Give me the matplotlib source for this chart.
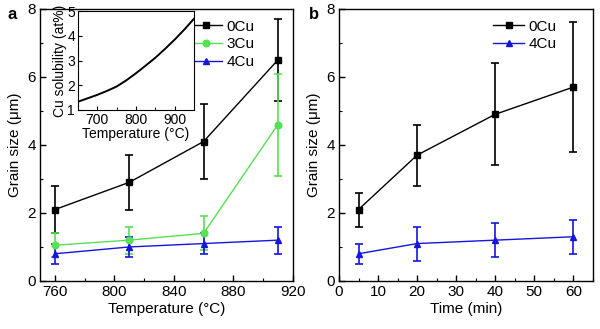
import matplotlib
matplotlib.use("Agg")
import matplotlib.pyplot as plt
from matplotlib.lines import Line2D
from matplotlib.ticker import MultipleLocator

plt.rcParams['font.family'] = ['Liberation Sans', 'DejaVu Sans']

# Panel a: grain size vs annealing temperature
temp = [760, 810, 860, 910]
cu0_a = [2.1, 2.9, 4.1, 6.5]
cu0_a_err = [0.7, 0.8, 1.1, 1.2]
cu3_a = [1.05, 1.2, 1.4, 4.6]
cu3_a_err = [0.35, 0.4, 0.5, 1.5]
cu4_a = [0.8, 1.0, 1.1, 1.2]
cu4_a_err = [0.3, 0.3, 0.3, 0.4]

# Inset: Cu solubility vs temperature
sol_temp = [650, 675, 700, 725, 750, 775, 800, 825, 850, 875, 900, 925, 950]
sol_val = [1.33, 1.47, 1.61, 1.77, 1.95, 2.2, 2.49, 2.8, 3.12, 3.48, 3.86,
           4.27, 4.71]

# Panel b: grain size vs annealing time
time_min = [5, 20, 40, 60]
cu0_b = [2.1, 3.7, 4.9, 5.7]
cu0_b_err = [0.5, 0.9, 1.5, 1.9]
cu4_b = [0.8, 1.1, 1.2, 1.3]
cu4_b_err = [0.3, 0.5, 0.5, 0.5]

BLACK = '#000000'
GREEN = '#55e055'
BLUE = '#1515e0'
MS = 4.8

fig = plt.figure(figsize=(6.0, 3.29), dpi=100)
ax_a = fig.add_axes([0.0667, 0.146, 0.4213, 0.827])
ax_b = fig.add_axes([0.565, 0.146, 0.423, 0.827])


def series(ax, x, y, e, color, marker):
    ax.errorbar(x, y, yerr=e, color=color, marker=marker, ms=MS, lw=1.0,
                elinewidth=1.2, capsize=3, capthick=1.2)


def handle(color, marker, label):
    return Line2D([], [], color=color, marker=marker, ms=MS, lw=1.0,
                  label=label)


def style(ax):
    ax.tick_params(direction='in', which='both', top=False, right=False,
                   labelsize=11, pad=3)
    ax.tick_params(which='major', length=4, width=1)
    ax.tick_params(which='minor', length=2.5, width=0.8)
    for s in ax.spines.values():
        s.set_linewidth(1.0)
    ax.set_ylim(0, 8)
    ax.yaxis.set_major_locator(MultipleLocator(2))
    ax.yaxis.set_minor_locator(MultipleLocator(1))
    ax.set_ylabel('Grain size (μm)', fontsize=11, labelpad=4)


legend_kw = dict(frameon=False, fontsize=11, handlelength=2.0,
                 handletextpad=0.3, labelspacing=0.25, borderaxespad=0.3)

series(ax_a, temp, cu0_a, cu0_a_err, BLACK, 's')
series(ax_a, temp, cu3_a, cu3_a_err, GREEN, 'o')
series(ax_a, temp, cu4_a, cu4_a_err, BLUE, '^')
style(ax_a)
ax_a.set_xlim(750, 920)
ax_a.xaxis.set_major_locator(MultipleLocator(40))
ax_a.xaxis.set_minor_locator(MultipleLocator(20))
ax_a.set_xlabel('Temperature (°C)', fontsize=11, labelpad=2)
ax_a.legend(handles=[handle(BLACK, 's', '0Cu'), handle(GREEN, 'o', '3Cu'),
                     handle(BLUE, '^', '4Cu')],
            loc='upper right', bbox_to_anchor=(0.89, 1.0), **legend_kw)

series(ax_b, time_min, cu0_b, cu0_b_err, BLACK, 's')
series(ax_b, time_min, cu4_b, cu4_b_err, BLUE, '^')
style(ax_b)
ax_b.set_xlim(0, 65)
ax_b.xaxis.set_major_locator(MultipleLocator(10))
ax_b.xaxis.set_minor_locator(MultipleLocator(5))
ax_b.set_xlabel('Time (min)', fontsize=11, labelpad=2)
ax_b.legend(handles=[handle(BLACK, 's', '0Cu'), handle(BLUE, '^', '4Cu')],
            loc='upper right', bbox_to_anchor=(0.9, 1.0), **legend_kw)

# Inset with solubility curve
ins = fig.add_axes([0.1295, 0.6657, 0.1943, 0.300])
ins.plot(sol_temp, sol_val, color=BLACK, lw=1.4)
ins.set_xlim(650, 950)
ins.set_ylim(1, 5)
ins.xaxis.set_major_locator(MultipleLocator(100))
ins.xaxis.set_minor_locator(MultipleLocator(50))
ins.yaxis.set_major_locator(MultipleLocator(1))
ins.tick_params(direction='in', which='both', top=False, right=False,
                labelsize=10, pad=2, length=3)
ins.tick_params(which='minor', length=2)
ins.set_xlabel('Temperature (°C)', fontsize=10, labelpad=0)
ins.set_ylabel('Cu solubility (at%)', fontsize=10, labelpad=0)

fig.text(0.012, 0.955, 'a', fontsize=12, fontweight='bold', va='center')
fig.text(0.515, 0.955, 'b', fontsize=12, fontweight='bold', va='center')

fig.savefig('out.png', dpi=100)
